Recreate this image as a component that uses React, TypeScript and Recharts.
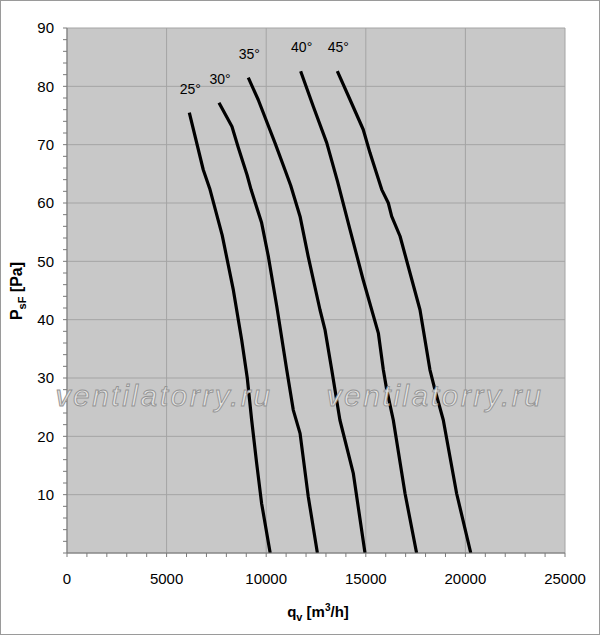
import { LineChart, Line, XAxis, YAxis, CartesianGrid } from 'recharts'

// fan curves: airflow q [m3/h] vs static pressure p [Pa], one per blade angle
const angles = ['25°', '30°', '35°', '40°', '45°']

const curve25 = [
  { q: 6140, p: 75.5 }, { q: 6840, p: 65.7 }, { q: 7180, p: 62.3 }, { q: 7790, p: 54.5 },
  { q: 8350, p: 45.1 }, { q: 8770, p: 36.5 }, { q: 9050, p: 30 }, { q: 9270, p: 22.8 },
  { q: 9520, p: 15.4 }, { q: 9770, p: 8.5 }, { q: 10200, p: 0 },
]
const curve30 = [
  { q: 7630, p: 77.2 }, { q: 8280, p: 73.1 }, { q: 8590, p: 69.6 }, { q: 9040, p: 64.8 },
  { q: 9240, p: 62.3 }, { q: 9770, p: 56.6 }, { q: 10110, p: 50.8 }, { q: 10530, p: 42.3 },
  { q: 11030, p: 31.4 }, { q: 11360, p: 24.5 }, { q: 11700, p: 20.5 }, { q: 12110, p: 9.7 },
  { q: 12570, p: 0 },
]
const curve35 = [
  { q: 9100, p: 81.5 }, { q: 9600, p: 77.7 }, { q: 10440, p: 70.3 }, { q: 10940, p: 65.7 },
  { q: 11230, p: 63 }, { q: 11700, p: 57.7 }, { q: 12110, p: 50.8 }, { q: 12700, p: 41.7 },
  { q: 12950, p: 38.3 }, { q: 13290, p: 31.4 }, { q: 13700, p: 22.8 }, { q: 14370, p: 13.7 },
  { q: 14960, p: 0 },
]
const curve40 = [
  { q: 11730, p: 82.6 }, { q: 12360, p: 76.6 }, { q: 13040, p: 70.3 }, { q: 13580, p: 63.7 },
  { q: 14210, p: 55.4 }, { q: 14870, p: 46.8 }, { q: 15630, p: 37.7 }, { q: 15880, p: 31.4 },
  { q: 16050, p: 28 }, { q: 16380, p: 22.8 }, { q: 16970, p: 10.2 }, { q: 17550, p: 0 },
]
const curve45 = [
  { q: 13570, p: 82.6 }, { q: 14210, p: 77.7 }, { q: 14870, p: 72.6 }, { q: 15210, p: 68.6 },
  { q: 15800, p: 62.3 }, { q: 16130, p: 60 }, { q: 16300, p: 57.7 }, { q: 16720, p: 54.3 },
  { q: 17220, p: 48 }, { q: 17720, p: 41.7 }, { q: 18220, p: 31.4 }, { q: 18470, p: 28 },
  { q: 18890, p: 22.8 }, { q: 19560, p: 10.2 }, { q: 20270, p: 0 },
]
const curves = [curve25, curve30, curve35, curve40, curve45]

const xMajorTicks = [0, 5000, 10000, 15000, 20000, 25000]
const yMajorTicks = [0, 10, 20, 30, 40, 50, 60, 70, 80, 90]
const xMinorTicks = Array.from({ length: 26 }, (_, i) => i * 1000)
const yMinorTicks = Array.from({ length: 46 }, (_, i) => i * 2)

const watermark = 'ventilatorry.ru'

const font = 'Arial, "Liberation Sans", sans-serif'

function AngleLabel(props: any) {
  const { x, y, index, text } = props
  if (index !== 0) return <g />
  return (
    <text x={x + 1} y={y - 19} textAnchor="middle" fontSize={14} fontFamily={font} fill="#000">
      {text}
    </text>
  )
}

export default function App() {
  return (
    <div
      style={{
        position: 'absolute',
        left: 0,
        top: 0,
        width: 600,
        height: 635,
        background: '#fff',
        border: '1px solid #9a9a9a',
        boxSizing: 'border-box',
      }}
    >
      <LineChart width={598} height={633} margin={{ top: 27, right: 34, left: 26, bottom: 51 }}>
        <CartesianGrid
          fill="#c8c8c8"
          stroke="#a4a4a4"
          strokeWidth={1}
          horizontalValues={yMajorTicks}
          verticalValues={xMajorTicks}
        />
        <XAxis
          type="number"
          dataKey="q"
          domain={[0, 25000]}
          ticks={xMinorTicks}
          interval={0}
          allowDataOverflow
          height={30}
          tickSize={4}
          tickMargin={16}
          stroke="#7a7a7a"
          tick={{ fill: '#000', fontSize: 15, fontFamily: font }}
          tickFormatter={(v: number) => (v % 5000 === 0 ? String(v) : '')}
        />
        <YAxis
          type="number"
          dataKey="p"
          domain={[0, 90]}
          ticks={yMinorTicks}
          interval={0}
          allowDataOverflow
          width={40}
          tickSize={4}
          tickMargin={9}
          stroke="#7a7a7a"
          tick={{ fill: '#000', fontSize: 15, fontFamily: font }}
          tickFormatter={(v: number) => (v % 10 === 0 && v !== 0 ? String(v) : '')}
        />
        {curves.map((data, i) => (
          <Line
            key={angles[i]}
            data={data}
            dataKey="p"
            type="linear"
            stroke="#000"
            strokeWidth={3.2}
            strokeLinejoin="round"
            dot={false}
            isAnimationActive={false}
            label={(props: any) => <AngleLabel {...props} text={angles[i]} />}
          />
        ))}
      </LineChart>
      <svg
        width={600}
        height={635}
        style={{ position: 'absolute', left: -1, top: -1, pointerEvents: 'none' }}
      >
        <g
          fontFamily={font}
          fontStyle="italic"
          fontSize={30}
          letterSpacing={2.5}
          fill="#e2e2e2"
          stroke="#939393"
          strokeWidth={0.9}
        >
          <text x={164} y={406} textAnchor="middle">{watermark}</text>
          <text x={435} y={406} textAnchor="middle">{watermark}</text>
        </g>
        <text
          x={0}
          y={0}
          transform="translate(22 291) rotate(-90)"
          textAnchor="middle"
          fontFamily={font}
          fontWeight="bold"
          fontSize={16}
          fill="#000"
        >
          P<tspan dy={4} fontSize={11}>sF</tspan>
          <tspan dy={-4}> [Pa]</tspan>
        </text>
        <text x={318} y={617} textAnchor="middle" fontFamily={font} fontWeight="bold" fontSize={15} fill="#000">
          q<tspan dy={4} fontSize={11}>v</tspan>
          <tspan dy={-4}> [m</tspan>
          <tspan dy={-6} fontSize={10}>3</tspan>
          <tspan dy={6}>/h]</tspan>
        </text>
      </svg>
    </div>
  )
}
